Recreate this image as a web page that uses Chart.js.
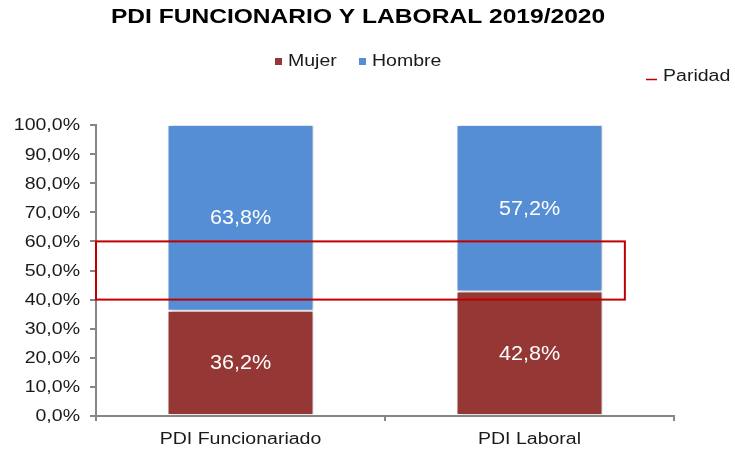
<!DOCTYPE html>
<html>
<head>
<meta charset="utf-8">
<script src="https://cdn.jsdelivr.net/npm/chart.js@4"></script>
<style>
html,body{margin:0;padding:0;background:#fff;}
#wrap{width:735px;height:452px;}
</style>
</head>
<body>
<div id="wrap"><canvas id="c" width="735" height="452"></canvas></div>
<script>
const chartTitle = 'PDI FUNCIONARIO Y LABORAL 2019/2020';
const categories = ['PDI Funcionariado', 'PDI Laboral'];
const mujer = [36.2, 42.8];
const hombre = [63.8, 57.2];
const seriesNames = ['Mujer', 'Hombre'];
const parityLabel = 'Paridad';
const parityBand = [40, 60];          // % range of the parity box
const parityXRange = [-0.5, 1.33];    // category-index extent of the box
const yTicks = [0,10,20,30,40,50,60,70,80,90,100];

const FONT = "'Liberation Sans', Arial, sans-serif";
const C_MUJER = '#953735';
const C_HOMBRE = '#558ED5';
const C_PARITY = '#C00000';
const C_TEXT = '#1a1a1a';
const AX_SX = 1.22;   // horizontal stretch of axis/legend text

function fmt(v){ return v.toFixed(1).replace('.', ',') + '%'; }

function txt(ctx, s, x, y, font, align, sx, color){
  ctx.save();
  ctx.font = font;
  ctx.fillStyle = color;
  ctx.textBaseline = 'middle';
  ctx.textAlign = 'left';
  const w = ctx.measureText(s).width * sx;
  const left = align === 'center' ? x - w / 2 : (align === 'right' ? x - w : x);
  ctx.translate(left, y);
  ctx.scale(sx, 1);
  ctx.fillText(s, 0, 0);
  ctx.restore();
}

const shadowPlugin = {
  id: 'shadow',
  beforeDatasetDraw(chart){
    const ctx = chart.ctx;
    ctx.save();
    ctx.shadowColor = 'rgba(0,0,0,0.28)';
    ctx.shadowBlur = 5;
    ctx.shadowOffsetX = 2;
    ctx.shadowOffsetY = 0;
  },
  afterDatasetDraw(chart){ chart.ctx.restore(); }
};

const overlayPlugin = {
  id: 'overlay',
  afterDatasetsDraw(chart){
    const ctx = chart.ctx;
    // data labels
    chart.data.datasets.forEach((ds, di) => {
      const meta = chart.getDatasetMeta(di);
      meta.data.forEach((el, i) => {
        txt(ctx, fmt(ds.data[i]), el.x, (el.y + el.base) / 2 + 1, '20px ' + FONT, 'center', 1.08, '#fff');
      });
    });
    // parity box
    const xs = chart.scales.x, ys = chart.scales.y;
    const x1 = xs.getPixelForValue(parityXRange[0]);
    const x2 = xs.getPixelForValue(parityXRange[1]);
    const y1 = ys.getPixelForValue(parityBand[1]);
    const y2 = ys.getPixelForValue(parityBand[0]);
    ctx.save();
    ctx.strokeStyle = C_PARITY;
    ctx.lineWidth = 2;
    ctx.strokeRect(x1, y1, x2 - x1, y2 - y1);
    ctx.restore();
  },
  afterDraw(chart){
    const ctx = chart.ctx;
    const xs = chart.scales.x, ys = chart.scales.y;
    // axis labels
    ys.ticks.forEach((t, i) => {
      txt(ctx, fmt(t.value), 80, ys.getPixelForTick(i) + 1, '16px ' + FONT, 'right', AX_SX, C_TEXT);
    });
    categories.forEach((c, i) => {
      txt(ctx, c, xs.getPixelForValue(i), 440, '16px ' + FONT, 'center', AX_SX, C_TEXT);
    });
    // title
    txt(ctx, chartTitle, 358, 17, 'bold 21px ' + FONT, 'center', 1.17, '#000');
    // legend
    const cols = [C_MUJER, C_HOMBRE];
    const lx = [275, 359];
    seriesNames.forEach((n, i) => {
      ctx.fillStyle = cols[i];
      ctx.fillRect(lx[i], 58, 7, 7);
      txt(ctx, n, lx[i] + 13, 62, '16px ' + FONT, 'left', AX_SX, C_TEXT);
    });
    // parity legend
    ctx.save();
    ctx.strokeStyle = C_PARITY;
    ctx.lineWidth = 1.5;
    ctx.beginPath();
    ctx.moveTo(646, 79.5); ctx.lineTo(657, 79.5);
    ctx.stroke();
    ctx.restore();
    txt(ctx, parityLabel, 663, 77, '16px ' + FONT, 'left', AX_SX, C_TEXT);
  }
};

new Chart(document.getElementById('c'), {
  type: 'bar',
  data: {
    labels: categories,
    datasets: [
      { label: seriesNames[0], data: mujer, backgroundColor: C_MUJER, borderColor: '#fff', borderWidth: 1, borderSkipped: false, barPercentage: 1, categoryPercentage: 0.505 },
      { label: seriesNames[1], data: hombre, backgroundColor: C_HOMBRE, borderColor: '#fff', borderWidth: 1, borderSkipped: false, barPercentage: 1, categoryPercentage: 0.505 }
    ]
  },
  options: {
    responsive: false,
    animation: false,
    devicePixelRatio: 1,
    layout: { padding: { top: 125, right: 61, bottom: 0, left: 0 } },
    plugins: { legend: { display: false }, title: { display: false }, tooltip: { enabled: false } },
    scales: {
      x: {
        stacked: true,
        offset: true,
        grid: { display: true, offset: true, drawOnChartArea: false, drawTicks: true, tickLength: 5, color: '#868686', lineWidth: 2 },
        border: { display: true, color: '#868686', width: 2 },
        ticks: { color: 'rgba(0,0,0,0)', font: { family: FONT, size: 16 }, padding: 4, maxRotation: 0 },
        afterFit(s){ s.height = 36; }
      },
      y: {
        stacked: true,
        min: 0, max: 100,
        afterBuildTicks(s){ s.ticks = yTicks.map(v => ({ value: v })); },
        grid: { display: true, drawOnChartArea: false, drawTicks: true, tickLength: 6, color: '#868686', lineWidth: 2 },
        border: { display: true, color: '#868686', width: 2 },
        ticks: { color: 'rgba(0,0,0,0)', font: { family: FONT, size: 16 }, padding: 9, callback: v => fmt(v) },
        afterFit(s){ s.width = 96; }
      }
    }
  },
  plugins: [shadowPlugin, overlayPlugin]
});
</script>
</body>
</html>
